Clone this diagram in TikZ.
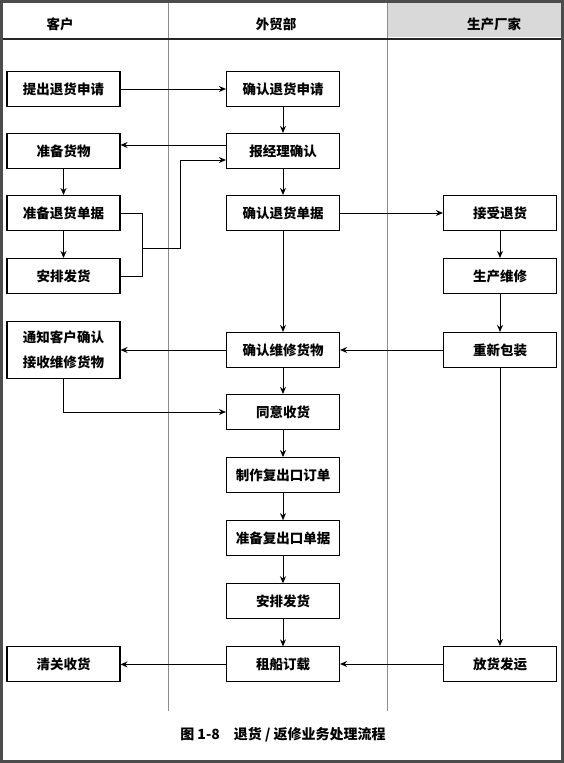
\documentclass[tikz,border=0pt]{standalone}
\usepackage{fontspec}
\setmainfont{Noto Sans CJK SC}
\usetikzlibrary{positioning,arrows.meta}

\tikzset{
  box/.style={draw, line width=1.1pt, minimum width=113pt, minimum height=35pt,
    inner sep=2pt, font=\bfseries\fontsize{13.5}{16}\selectfont},
  head/.style={font=\bfseries\fontsize{13.5}{16}\selectfont},
  lane/.style={draw=black!45, line width=0.7pt},
  flow/.style={->, line width=0.9pt},
  >={Stealth[length=7pt,width=6pt]}
}

\begin{document}
\begin{tikzpicture}[x=1pt, y=-1pt, node distance=27pt]
                \useasboundingbox (0,0) rectangle (564,763);
                \fill[black!70] (0,0) rectangle (564,763);
                \fill[white] (3,3) rectangle (561,760);
                \fill[black!15] (387,3) rectangle (561,37);
                \draw[lane] (168,3) -- (168,711);
                \draw[lane] (387,3) -- (387,711);
                \draw[line width=1.3pt, black!85] (3,39) -- (561,39);

                \node[head] at (60,24) (HC) {客户};
                \node[head] at (276,24) (HW) {外贸部};
                \node[head] at (494,24) (HF) {生产厂家};

                \node[box] at (63.5,89) (Req) {提出退货申请};
                \node[box] at (283,89) (ConfReq) {确认退货申请};
                \node[box] at (283,151) (Mgr) {报经理确认};
                \node[box] at (63.5,151) (Goods) {准备货物};
                \node[box] at (283,213) (ConfDocs) {确认退货单据};
                \node[box] at (63.5,213) (Docs) {准备退货单据};
                \node[box] at (500,213) (Accept) {接受退货};
                \node[box] at (63.5,276) (Ship) {安排发货};
                \node[box] at (500,276) (Repair) {生产维修};
                \node[box, minimum height=57pt, align=center,
                      font=\bfseries\fontsize{13.5}{25}\selectfont] at (63.5,350) (Notify) {通知客户确认\\接收维修货物};
                \node[box] at (283,350) (ConfRep) {确认维修货物};
                \node[box] at (500,350) (Repack) {重新包装};
                \node[box] at (283,412) (Agree) {同意收货};
                \node[box, below = of Agree] (Order) {制作复出口订单};
                \node[box, below = of Order] (ExpDocs) {准备复出口单据};
                \node[box, below = of ExpDocs] (Ship2) {安排发货};
                \node[box, below = of Ship2] (Charter) {租船订载};
                \node[box] at (63.5,664) (Clear) {清关收货};
                \node[box] at (500,664) (Release) {放货发运};

                \coordinate (J) at (142,248);
                \coordinate (K) at (180,248);

                \draw[flow] (Req) -- (ConfReq);
                \draw[flow] (ConfReq) -- (Mgr);
                \draw[flow] ([yshift=6pt]Mgr.west) -- ([yshift=6pt]Mgr.west -| Goods.east);
                \draw[flow] (Mgr) -- (ConfDocs);
                \draw[flow] (Goods) -- (Docs);
                \draw[flow] (Docs) -- (Ship);
                \draw[line width=0.9pt] (Docs.east) -| (J);
                \draw[line width=0.9pt] (Ship.east) -| (J);
                \draw[flow] (J) -- (K) |- ([yshift=-9pt]Mgr.west);
                \draw[flow] (ConfDocs) -- (Accept);
                \draw[flow] (ConfDocs) -- (ConfRep);
                \draw[flow] (Accept) -- (Repair);
                \draw[flow] (Repair) -- (Repack);
                \draw[flow] (Repack) -- (ConfRep);
                \draw[flow] (ConfRep) -- (Notify);
                \draw[flow] (Notify) |- (Agree);
                \draw[flow] (ConfRep) -- (Agree);
                \draw[flow] (Agree) -- (Order);
                \draw[flow] (Order) -- (ExpDocs);
                \draw[flow] (ExpDocs) -- (Ship2);
                \draw[flow] (Ship2) -- (Charter);
                \draw[flow] (Repack) -- (Release);
                \draw[flow] (Release.west) -- (Release.west -| Charter.east);
                \draw[flow] (Charter.west) -- (Charter.west -| Clear.east);

                \node[font=\bfseries\fontsize{14}{16}\selectfont] at (283,735) (Cap) {图 1-8\quad 退货 / 返修业务处理流程};
            \end{tikzpicture}
\end{document}
